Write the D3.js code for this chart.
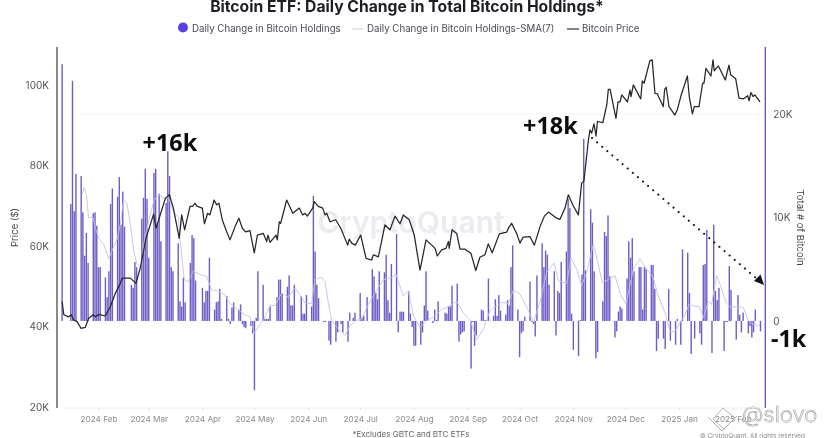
<!DOCTYPE html>
<html><head><meta charset="utf-8">
<script src="https://cdnjs.cloudflare.com/ajax/libs/d3/7.8.5/d3.min.js"></script>
<style>
html,body{margin:0;padding:0;background:#fff;overflow:hidden}
svg{display:block;filter:blur(0.35px)}
text{font-family:Inter,"Noto Sans",sans-serif}
</style></head><body>
<script>
const chartTitle = "Bitcoin ETF: Daily Change in Total Bitcoin Holdings*";
const legendLabels = ["Daily Change in Bitcoin Holdings","Daily Change in Bitcoin Holdings-SMA(7)","Bitcoin Price"];
const footnote = "*Excludes GBTC and BTC ETFs";
const priceTicks = [20,40,60,80,100];
const holdingTicks = [0,10,20];
const monthTicks = ["2024-02-01","2024-03-01","2024-04-01","2024-05-01","2024-06-01","2024-07-01","2024-08-01","2024-09-01","2024-10-01","2024-11-01","2024-12-01","2025-01-01","2025-02-01"];

// launch day (thousand BTC), then one row per trading week Mon..Fri; null = no bar
const launchDate = "2024-01-11";
const launchFlow = 24.8;
const firstMonday = "2024-01-15";
const weeklyFlows = [
[null,11.3,23.2,10.6,14.2],[14,10.5,6.3,8.5,5.6],[10.4,10.5,9.2,5.2,5.2],[4.2,2.3,4.8,11.3,12.8],
[12,13.9,9.3,12.5,9.1],[null,3.5,3.2,5.7,5.2],[9.9,11.9,14.7,11.8,6.1],[14.3,14.7,9.5,12.3,7.7],
[11.4,16.4,14,5.2,4.8],[7.5,1.9,1.4,4.2,1.8],[5.6,8.3,8,3.9,null],[3.2,1.8,2.9,2.9,6.1],
[1.1,1.8,1.9,3.1,.2],[2.4,.2,-.3,1.3,1.8],[1.1,1.6,-.3,-.6,-.7],[-.5,-1.2,-6.7,.3,4.8],
[3.5,.2,.2,.2,1.4],[null,2.3,4,4,2.6],[3.3,4.4,1.5,1.5,3.5],[null,2.4,.7,.7,2.5],
[1.4,12.1,6.7,3.5,2.2],[-.1,-.1,null,-1.9,-2.3],[-2,-1.1,null,-.3,-1.1],[-2,.8,null,.3,.8],
[2.7,.3,.5,null,2.3],[5,4.3,2.7,2.1,4.8],[4.7,6.4,2,.8,5.5],[8.4,-1.1,.9,.9,.9],
[2.9,.7,-.6,-2.4,-2.4],[-2.3,-1.1,1.5,4.8,1],[-.2,1.1,.1,1.9,null],[.8,.7,1.4,1.4,3.4],
[3.6,-2,-1.3,-1.1,-1],[null,-4.6,-.1,-2.4,-1.4],[1.1,1,.1,.1,4.1],[.5,2.1,.5,2.5,1],
[.6,2,1.5,5.2,7.3],[1.1,-3.5,-1.2,-1,.4],[3.8,-.1,-.3,-1.5,4.4],[7.5,5.2,6.8,6.4,3.5],
[4.8,-1.4,2.9,2.7,5.7],[6.7,11.8,10.9,.7,-2.8],[-3.4,.1,4.5,17.6,4.9],[10.8,9.5,4.8,-3.6,-3],
[1.9,8.6,8.2,10.2,4.3],[-1.6,-1,.9,1.4,1.2],[4.1,7.7,6.1,8,4.8],[5.2,5.2,1.1,5.2,5],
[5.4,5.4,3.1,-2.9,-1.7],[-1.7,-2.7,null,3.1,-1.9],[-2.3,.2,null,-2.3,6.9],[6.6,2.7,-3.2,null,-1.7],
[-1.2,-2.3,5.4,5.5,8.8],[-3.1,9.3,2.9,2,3.2],[-2.9,-.1,-.1,5.3,3],[-1.8,2.5,.6,-1.1,.8],
[-1.2,-.5,-1.6,-1.1,1.1],[-1,null,null,null,null]
];

// days since launch, thousand BTC
const smaDays = [11.5,12.8,14,15.3,17.8,19.2,21.1,24,26.9,28.8,31.7,33.6,35.5,37.5,39.4,41.3,43.2,45.5,47.4,50,52.9,55.7,58.6,61.5,64.4,67.3,68,70.5,72.8,75.7,79.6,83.4,86.3,90.1,94,96.9,100.7,105.5,108.4,110.9,113.2,116.1,120,122.8,126.7,130.5,134.4,137.9,140.2,144,145.9,149.8,151.7,153.6,155.6,158.5,163.2,166.1,169,172.9,176.7,180.6,185.3,190.2,192.7,196.9,199.8,202.7,206.5,210.4,215.2,219,222.9,227.7,231.5,235.4,239.2,243,246.9,253.7,257.5,260.4,264.2,269,271.9,275.8,279.6,284,286.3,291.2,293.6,297,299.8,302.7,306.5,308.5,311.7,315.2,319,321.9,325.4,329.6,333.5,337.3,341.1,344,347.9,350.8,353.6,356.5,359.4,361.9,365.2,367.7,370,372.9,374.8,377.7,380.6,383.1,385.8,390.2,393.1,396,399.8,402.7];
const smaValues = [12.2,12.9,12.2,10,10,9,8,7.4,6,6.8,7.9,9.3,11.8,11.3,9.3,6.8,5.5,5.2,7.7,9.7,11.6,12.2,11.9,11.9,10.5,10,7.9,4,3.8,4.8,4.5,4.3,3,2.9,2.5,1.7,1.2,.6,.4,-1.2,-.5,0,1.5,1.5,2.7,2.3,3.2,2.4,1.7,1.7,4,4.2,3.8,1.8,0,-.6,-1.4,-.5,0,.2,1.6,2.7,4,4.2,4.5,2.4,2.9,.5,-.6,0,.5,1.1,1.4,1.9,.8,.1,-1.8,-.8,1,1.8,1.7,3,2.6,1,-.1,1.8,4.7,5.6,3.9,3.6,6.1,5,3.4,4.7,7.4,6.1,3.7,4,4.4,2.7,1.6,5,6,5,4.2,2.4,.8,-1,-1,-.2,.6,1.6,1.4,1.4,.3,1.9,1.6,4.4,3.1,1.8,1.3,1.4,1.3,0,-.4,-.4];

// days since launch, price in thousand USD
const priceDays = [0,1,3.8,5.3,6.7,8.6,10.9,13.4,15.3,17.8,19.2,21.1,24.9,27.8,30.7,33.6,34.6,39.4,42.6,45.1,48.4,52.8,54.2,59.6,61.9,64.2,67.6,69,70.7,73.8,75.3,76.7,77.7,80.9,82.1,84,85.3,87.7,89.2,90.5,92.4,95,96.9,99.8,102,104,105.9,108.4,110.9,112.7,116.1,118.1,118.8,120,123.4,124.2,125.3,126.1,129.6,133.1,136.9,138.8,140.2,141.5,144.6,145.5,147.8,150.4,151.7,152.7,154.6,157.9,160.8,164.8,165.7,167.1,169.2,172.3,175.4,178.6,179.6,182.5,186.3,189.2,192.1,195,196.9,200.3,203.2,206.5,207.7,210,213.3,215.2,216.5,219,221.5,222.9,223.4,225,227.7,229.6,232.5,235.9,238.7,241.1,244,245.9,248.2,252.3,256.5,257.5,259.4,262.3,264.2,266.1,270,272.5,275.8,278.3,280.6,285.4,287.3,290.2,292.1,295,297.9,299.8,301.1,303.7,304.6,305.6,306.9,308.1,308.9,312,314.3,315.2,316.2,319.6,320.8,322,322.9,326.2,327.7,328.3,329.6,333.9,334.8,335.8,339.2,340.5,342.1,343.4,346.9,347.7,348.6,350.2,353.6,355,357.1,360.8,361.9,363.7,364.8,367.5,369.6,370.4,371.5,374.4,375.6,376.3,378.7,382.7,384.8,385.8,388.7,390.6,393.1,395.6,396.4,397.5,398.7,399.8,402.7];
const priceValues = [46.2,42.9,42.4,42.9,41.6,41.2,39.55,39.8,42,42.9,42.4,43,42.6,44.9,48.2,50.7,52,52,50.7,54.5,61.9,67.9,64.4,71.8,72.7,69.4,61.9,67.7,64,69.8,69.8,70.6,69.9,69.4,65.5,68.1,67.7,71.4,70.2,70.6,66.5,63.5,61.5,64.8,66.9,64.4,63.5,63.8,58.3,62.7,63.1,61.1,62.7,60.9,62.7,61.5,66,65.6,71.4,68.1,69.4,67.7,68.1,67.4,69.4,71,69.8,69.4,67.7,68.1,66,66.5,64.4,60.2,61.7,60.7,60.2,62.7,56.9,56.5,57.8,57.3,65.2,64,67.4,65.5,67.7,66.5,62.7,54,56.5,61.5,60.2,59.4,57.5,59,59.4,61.1,59.4,64,63.1,59.2,59.2,58.2,53.9,57.2,57.8,60.5,58.3,63,63.4,64.4,65.6,63.1,60.7,62.2,62.3,60.2,64.8,67.4,68.4,66.9,66.6,69.4,72.7,69.9,67.7,75.6,76.1,86.3,88.8,88,90.3,87.3,90.9,90.6,95,98.9,98.9,91.7,95.8,95.8,97.5,95.8,98.7,97.1,100,96.5,101,100.4,106,106.2,97.9,97.8,94.6,98.9,99.4,94.6,92.5,93.8,97.3,102.2,97.1,92.8,94.6,94.6,100.4,100.4,104.1,102.2,106.2,103.5,104.7,101.2,104.9,102.5,101.5,96.7,96.5,97.3,96,98.1,97.1,97.5,95.8];

const width = 828, height = 438;
const dayMs = 864e5;
const start = new Date(launchDate + "T00:00:00Z");
const dateOf = d => new Date(+start + d * dayMs);

const x = d3.scaleUtc().domain([start, dateOf(403)]).range([62.1, 760.5]);
const yPrice = d3.scaleLinear().domain([20, 109.4]).range([407, 47]);
const yHold = d3.scaleLinear().domain([-8.41, 26.47]).range([408, 47]);

const flows = [{date: start, value: launchFlow}];
const monday = new Date(firstMonday + "T00:00:00Z");
weeklyFlows.forEach((week, w) => week.forEach((v, i) => {
  if (v !== null) flows.push({date: new Date(+monday + (w * 7 + i) * dayMs), value: v});
}));

const svg = d3.select("body").append("svg").attr("width", width).attr("height", height);

// title & legend
svg.append("text").attr("x", 407).attr("y", 11.5).attr("text-anchor", "middle")
  .attr("font-size", 15.7).attr("font-weight", 700).attr("fill", "#1d1d24").text(chartTitle);
svg.append("circle").attr("cx", 183).attr("cy", 27.5).attr("r", 5).attr("fill", "#5a3fe6");
svg.append("line").attr("x1", 352).attr("x2", 363).attr("y1", 29).attr("y2", 29).attr("stroke", "#cfc9ee").attr("stroke-width", 1);
svg.append("line").attr("x1", 567).attr("x2", 579).attr("y1", 29).attr("y2", 29).attr("stroke", "#333").attr("stroke-width", 1.2);
[[192, 0],[367, 1],[582, 2]].forEach(([lx, i]) =>
  svg.append("text").attr("x", lx).attr("y", 32).attr("font-size", 9.7).attr("fill", "#4a4a55").text(legendLabels[i]));

// watermark
svg.append("text").attr("x", 411).attr("y", 233).attr("text-anchor", "middle").attr("font-size", 30)
  .attr("font-weight", 600).attr("fill", "#ebebf0").text("CryptoQuant");

// faint gridlines
svg.append("g").selectAll("line").data([20]).join("line")
  .attr("x1", 80).attr("x2", 765).attr("y1", d => yHold(d)).attr("y2", d => yHold(d))
  .attr("stroke", "#f4f4f4");

// bars
svg.append("g").selectAll("rect").data(flows).join("rect")
  .attr("x", d => x(d.date) - 0.7).attr("width", 1.4)
  .attr("y", d => Math.min(yHold(d.value), yHold(0)))
  .attr("height", d => Math.abs(yHold(d.value) - yHold(0)))
  .attr("fill", "#6f5cc6");

// SMA
svg.append("path").attr("fill", "none").attr("stroke", "#c6bfe8").attr("stroke-width", 0.9)
  .attr("d", d3.line().x((d, i) => x(dateOf(smaDays[i]))).y(d => yHold(d))(smaValues));

// price
svg.append("path").attr("fill", "none").attr("stroke", "#26262b").attr("stroke-width", 1.25).attr("stroke-linejoin", "round")
  .attr("d", d3.line().x((d, i) => x(dateOf(priceDays[i]))).y(d => yPrice(d))(priceValues));

// axes
const axL = svg.append("g").attr("transform", "translate(57,0)")
  .call(d3.axisLeft(yPrice).tickValues(priceTicks).tickSize(0).tickPadding(8).tickFormat(d => d + "K"));
axL.select(".domain").attr("d", "M0,47V408").attr("stroke", "#6b6b6b").attr("stroke-width", 1.6);
axL.selectAll("text").attr("font-size", 10).attr("fill", "#555").style("font-family", "Inter");

const axR = svg.append("g").attr("transform", "translate(765.3,0)")
  .call(d3.axisRight(yHold).tickValues(holdingTicks).tickSize(0).tickPadding(8).tickFormat(d => d ? d + "K" : "0"));
axR.select(".domain").attr("d", "M0,47V408").attr("stroke", "#6a58cf").attr("stroke-width", 1.4);
axR.selectAll("text").attr("font-size", 10).attr("fill", "#555").style("font-family", "Inter");

const axB = svg.append("g").attr("transform", "translate(0,408)")
  .call(d3.axisBottom(x).tickValues(monthTicks.map(s => new Date(s + "T00:00:00Z"))).tickSize(2).tickPadding(6)
    .tickFormat(d3.utcFormat("%Y %b")));
axB.select(".domain").attr("d", "M62,0H765").attr("stroke", "#eee");
axB.selectAll("line").attr("stroke", "#ddd");
axB.selectAll("text").attr("font-size", 8.2).attr("fill", "#8a8a90").style("font-family", "Inter");

svg.append("text").attr("transform", "translate(18,227.5) rotate(-90)").attr("text-anchor", "middle")
  .attr("font-size", 9.6).attr("fill", "#444").text("Price ($)");
svg.append("text").attr("transform", "translate(797,227.5) rotate(90)").attr("text-anchor", "middle")
  .attr("font-size", 9.6).attr("fill", "#444").text("Total # of Bitcoin");

svg.append("text").attr("x", 411).attr("y", 437).attr("text-anchor", "middle").attr("font-size", 8).attr("fill", "#666").text(footnote);
svg.append("text").attr("x", 805).attr("y", 437.5).attr("text-anchor", "end").attr("font-size", 6.4).attr("fill", "#888").text("© CryptoQuant. All rights reserved");

// annotations
const note = (t, nx, ny) => svg.append("text").attr("x", nx).attr("y", ny)
  .attr("font-size", 23.4).attr("font-weight", 700).attr("fill", "#0c0c0c").style("font-family", "'Noto Sans'").text(t);
note("+16k", 142.5, 151);
note("+18k", 523, 134);
note("-1k", 771, 347);

svg.append("line").attr("x1", 592).attr("y1", 138).attr("x2", 756).attr("y2", 278)
  .attr("stroke", "#111").attr("stroke-width", 2).attr("stroke-linecap", "round").attr("stroke-dasharray", "0.1 6.6");
svg.append("path").attr("d", "M764,285L754,281L760.5,274.5Z").attr("fill", "#111");

// author watermark
svg.append("path").attr("d", "M713,419L723,408L735,418L724,429Z M708,417L722,431L737,416").attr("fill", "none").attr("stroke", "#a9a9a9").attr("stroke-width", 0.9);
svg.append("text").attr("x", 742).attr("y", 422).attr("font-size", 22).attr("font-weight", 300).attr("fill", "#fff")
  .attr("stroke", "#9a9a9a").attr("stroke-width", 0.6).text("@slovo");
</script>
</body></html>
